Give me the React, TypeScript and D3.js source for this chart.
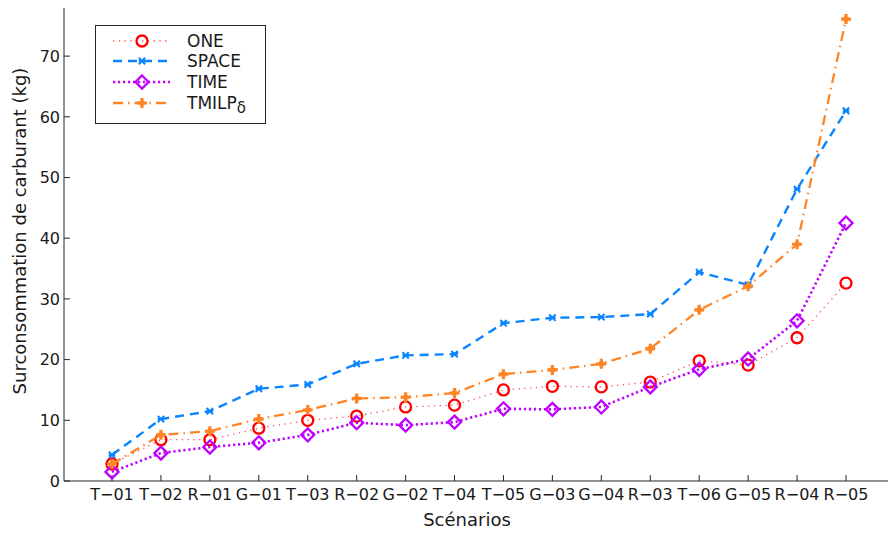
import React from "react";
import * as d3 from "d3";

const scenarios = ["T−01", "T−02", "R−01", "G−01", "T−03", "R−02", "G−02", "T−04", "T−05", "G−03", "G−04", "R−03", "T−06", "G−05", "R−04", "R−05"];
const oneValues = [2.8, 6.8, 6.8, 8.7, 10.0, 10.7, 12.2, 12.5, 15.0, 15.6, 15.5, 16.3, 19.8, 19.1, 23.6, 32.6];
const spaceValues = [4.3, 10.2, 11.5, 15.2, 15.9, 19.3, 20.7, 20.9, 26.0, 26.9, 27.0, 27.5, 34.4, 32.3, 48.1, 61.0];
const timeValues = [1.5, 4.6, 5.6, 6.3, 7.6, 9.6, 9.2, 9.7, 11.9, 11.8, 12.2, 15.5, 18.4, 20.1, 26.4, 42.5];
const tmilpValues = [2.8, 7.6, 8.2, 10.2, 11.7, 13.6, 13.8, 14.5, 17.6, 18.3, 19.3, 21.8, 28.2, 32.1, 39.0, 76.1];
const yTicks = [0, 10, 20, 30, 40, 50, 60, 70];

type Marker = "circle" | "x" | "diamond" | "plus";
interface Series {
  name: string;
  sub?: string;
  values: number[];
  color: string;
  lineColor: string;
  width: number;
  dash: string;
  marker: Marker;
}

const series: Series[] = [
  { name: "ONE", values: oneValues, color: "#ff0000", lineColor: "#ff5050", width: 1.3, dash: "1.3,4.5", marker: "circle" },
  { name: "SPACE", values: spaceValues, color: "#0a84ff", lineColor: "#0a84ff", width: 2.4, dash: "9,6", marker: "x" },
  { name: "TIME", values: timeValues, color: "#bf00ff", lineColor: "#bf00ff", width: 2.6, dash: "2.2,2.8", marker: "diamond" },
  { name: "TMILP", sub: "δ", values: tmilpValues, color: "#ff8424", lineColor: "#ff8424", width: 2.3, dash: "10,5,1.5,5", marker: "plus" },
];

const W = 888;
const H = 533;
const axisLeft = 64;
const axisBottom = 481;
const axisTop = 8;
const axisRight = 888;

const x = d3.scalePoint<string>().domain(scenarios).range([112, 846]);
const y = d3.scaleLinear().domain([0, 78]).range([axisBottom, axisBottom - 78 * 6.07]);

function MarkerShape({ kind, cx, cy, color }: { kind: Marker; cx: number; cy: number; color: string }) {
  if (kind === "circle") {
    return <circle cx={cx} cy={cy} r={5.5} fill="none" stroke={color} strokeWidth={2.3} />;
  }
  if (kind === "x") {
    const s = 3.2;
    return (
      <path
        d={`M${cx - s},${cy - s}L${cx + s},${cy + s}M${cx - s},${cy + s}L${cx + s},${cy - s}M${cx - s},${cy}L${cx + s},${cy}`}
        stroke={color}
        strokeWidth={2}
        fill="none"
      />
    );
  }
  if (kind === "diamond") {
    const s = 6.5;
    return (
      <path
        d={`M${cx},${cy - s}L${cx + s},${cy}L${cx},${cy + s}L${cx - s},${cy}Z`}
        fill="none"
        stroke={color}
        strokeWidth={2.3}
      />
    );
  }
  const s = 5;
  return (
    <g>
      <path d={`M${cx - s},${cy}L${cx + s},${cy}M${cx},${cy - s}L${cx},${cy + s}`} stroke={color} strokeWidth={3.2} fill="none" />
      <circle cx={cx} cy={cy} r={2.8} fill={color} />
    </g>
  );
}

export default function App() {
  const line = d3
    .line<number>()
    .x((_, i) => x(scenarios[i]) as number)
    .y((v) => y(v));

  const legendRows = [41, 61, 82, 103];

  return (
    <svg width={W} height={H} style={{ position: "absolute", left: 0, top: 0 }} fontFamily="DejaVu Sans, sans-serif">
      <rect x={0} y={0} width={W} height={H} fill="#ffffff" />

      {/* axes */}
      <line x1={axisLeft} y1={axisTop} x2={axisLeft} y2={axisBottom} stroke="#262626" strokeWidth={1} />
      <line x1={axisLeft} y1={axisBottom} x2={axisRight} y2={axisBottom} stroke="#262626" strokeWidth={1} />

      {yTicks.map((t) => (
        <g key={t}>
          <line x1={axisLeft} x2={axisLeft + 6} y1={y(t)} y2={y(t)} stroke="#262626" />
          <text x={axisLeft - 4} y={y(t)} dy="0.36em" textAnchor="end" fontSize={16} fill="#1a1a1a">
            {t}
          </text>
        </g>
      ))}

      {scenarios.map((s) => (
        <g key={s}>
          <line x1={x(s)} x2={x(s)} y1={axisBottom} y2={axisBottom - 6} stroke="#262626" />
          <text x={x(s)} y={500} textAnchor="middle" fontSize={16} fill="#1a1a1a">
            {s}
          </text>
        </g>
      ))}

      <text x={467} y={526} textAnchor="middle" fontSize={18} fill="#1a1a1a">
        Scénarios
      </text>
      <text transform="translate(26,231) rotate(-90)" textAnchor="middle" fontSize={18} fill="#1a1a1a">
        Surconsommation de carburant (kg)
      </text>

      {/* series */}
      {series.map((sr) => (
        <g key={sr.name}>
          <path
            d={line(sr.values) ?? ""}
            fill="none"
            stroke={sr.lineColor}
            strokeWidth={sr.width}
            strokeDasharray={sr.dash}
          />
          {sr.values.map((v, i) => (
            <MarkerShape key={i} kind={sr.marker} cx={x(scenarios[i]) as number} cy={y(v)} color={sr.color} />
          ))}
        </g>
      ))}

      {/* legend */}
      <rect x={95.5} y={25.5} width={170} height={98} fill="#ffffff" stroke="#262626" strokeWidth={1} />
      {series.map((sr, i) => (
        <g key={sr.name}>
          <line
            x1={113}
            x2={170}
            y1={legendRows[i]}
            y2={legendRows[i]}
            stroke={sr.lineColor}
            strokeWidth={sr.width}
            strokeDasharray={sr.dash}
          />
          <MarkerShape kind={sr.marker} cx={142} cy={legendRows[i]} color={sr.color} />
          <text x={187} y={legendRows[i]} dy="0.36em" fontSize={17} fill="#1a1a1a">
            {sr.name}
            {sr.sub ? (
              <tspan fontSize={15} dy={4}>
                {sr.sub}
              </tspan>
            ) : null}
          </text>
        </g>
      ))}
    </svg>
  );
}
